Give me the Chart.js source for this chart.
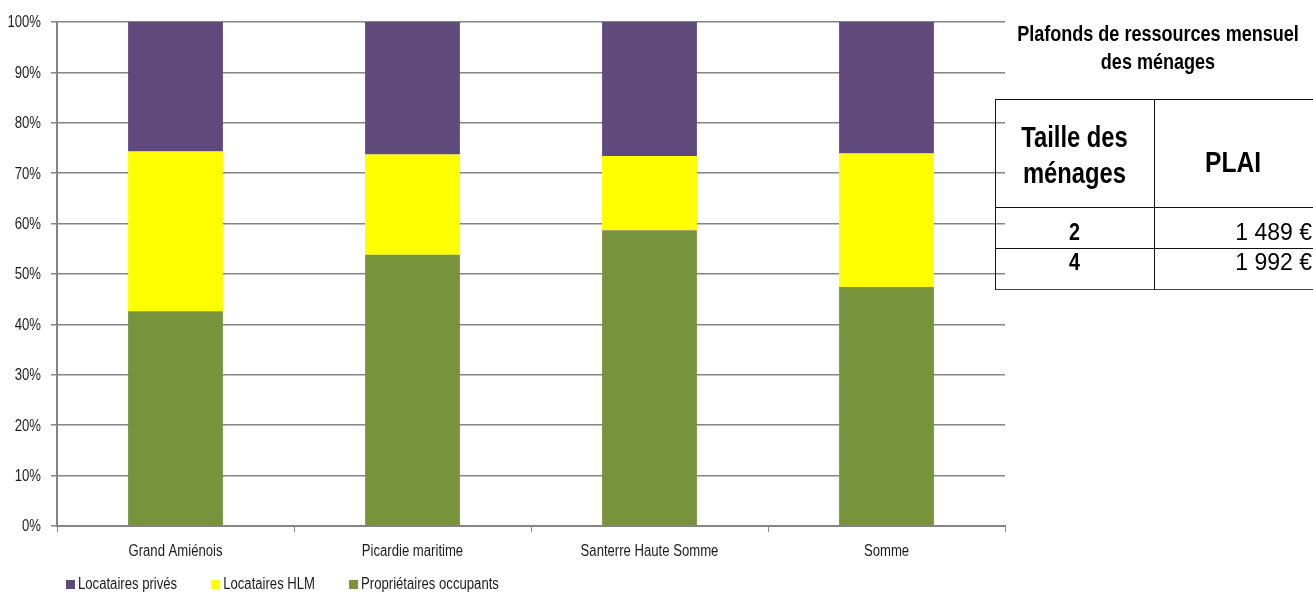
<!DOCTYPE html>
<html lang="fr">
<head>
<meta charset="utf-8">
<title>Statut d'occupation des ménages</title>
<script src="https://cdn.jsdelivr.net/npm/chart.js@4.4.1/dist/chart.umd.min.js"></script>
<style>
  html, body { margin: 0; padding: 0; background: #fff; }
  #wrap { position: relative; width: 1313px; height: 592px; overflow: hidden; }
  #chart { position: absolute; left: 0; top: 0; }
  .abs { position: absolute; white-space: nowrap; color: #000; font-family: "Liberation Sans", Arial, sans-serif; }
  .cond { transform: scaleX(0.82); transform-origin: 50% 50%; }
  .hl { position: absolute; height: 1px; background: #111; }
  .vl { position: absolute; width: 1px; background: #111; }
</style>
</head>
<body>
<div id="wrap">
  <canvas id="chart" width="1313" height="592"></canvas>
  <div id="panel"></div>
</div>
<script>
// Répartition des ménages par statut d'occupation (en %)
const categories = ['Grand Amiénois', 'Picardie maritime', 'Santerre Haute Somme', 'Somme'];
const proprietairesOccupants = [42.6, 53.8, 58.7, 47.4];
const locatairesHLM = [31.7, 19.9, 14.7, 26.5];
const locatairesPrives = [25.7, 26.3, 26.6, 26.1];
const seriesNames = ['Propriétaires occupants', 'Locataires HLM', 'Locataires privés'];
const seriesColors = ['#77933C', '#FFFF00', '#604A7B'];

// Plafonds de ressources PLAI
const tableTitle = ['Plafonds de ressources mensuel', 'des ménages'];
const tableHeader = ['Taille des', 'ménages', 'PLAI'];
const householdSizes = ['2', '4'];
const plaiCeilings = ['1 489 €', '1 992 €'];

const FONT = '"Liberation Sans", Arial, sans-serif';
const NARROW = 0.82;          // largeur d'une police « narrow »
const GRID = '#848484';
const TEXT = '#1c1c1c';

// Texte condensé horizontalement
function narrowText(ctx, text, x, y, align) {
  ctx.save();
  ctx.translate(x, y);
  ctx.scale(NARROW, 1);
  ctx.textAlign = align;
  ctx.fillText(text, 0, 0);
  ctx.restore();
}

// Étiquettes des axes en police étroite
const narrowAxisLabels = {
  id: 'narrowAxisLabels',
  afterDraw(chart) {
    const ctx = chart.ctx;
    const xs = chart.scales.x, ys = chart.scales.y;
    ctx.save();
    ctx.font = '16px ' + FONT;
    ctx.fillStyle = TEXT;
    ctx.textBaseline = 'middle';
    ys.ticks.forEach((t, i) => {
      narrowText(ctx, t.label, ys.right - 16, ys.getPixelForTick(i) + 1, 'right');
    });
    ctx.textBaseline = 'alphabetic';
    xs.ticks.forEach((t, i) => {
      narrowText(ctx, chart.data.labels[t.value], xs.getPixelForTick(i), 556, 'center');
    });
    ctx.restore();
  }
};

// Légende sous le graphique, dans l'ordre d'empilement inversé
const bottomLegend = {
  id: 'bottomLegend',
  afterDraw(chart) {
    const ctx = chart.ctx;
    const sets = chart.data.datasets.slice().reverse();
    let x = 66;
    const yMid = 585;
    ctx.save();
    ctx.font = '16px ' + FONT;
    ctx.textBaseline = 'middle';
    sets.forEach(ds => {
      ctx.fillStyle = ds.backgroundColor;
      ctx.fillRect(x, yMid - 5, 9, 9);
      ctx.fillStyle = TEXT;
      narrowText(ctx, ds.label, x + 12, yMid, 'left');
      x += 12 + ctx.measureText(ds.label).width * NARROW + 34;
    });
    ctx.restore();
  }
};

new Chart(document.getElementById('chart'), {
  type: 'bar',
  data: {
    labels: categories,
    datasets: [
      { label: seriesNames[0], data: proprietairesOccupants, backgroundColor: seriesColors[0] },
      { label: seriesNames[1], data: locatairesHLM, backgroundColor: seriesColors[1] },
      { label: seriesNames[2], data: locatairesPrives, backgroundColor: seriesColors[2] }
    ]
  },
  options: {
    responsive: false,
    animation: false,
    devicePixelRatio: 1,
    layout: { padding: { left: 8, top: 22, right: 308, bottom: 0 } },
    datasets: { bar: { barPercentage: 0.4, categoryPercentage: 1.0 } },
    plugins: { legend: { display: false }, tooltip: { enabled: false } },
    scales: {
      x: {
        stacked: true,
        grid: { offset: true, drawOnChartArea: false, drawTicks: true, tickLength: 6, color: GRID, lineWidth: 1 },
        border: { color: GRID, width: 2 },
        ticks: { font: { family: FONT, size: 16 }, color: 'rgba(0,0,0,0)', padding: 7, maxRotation: 0 },
        afterFit(s) { s.height = 66; }
      },
      y: {
        stacked: true,
        min: 0,
        max: 100,
        grid: { color: GRID, lineWidth: 1.5, tickLength: 6 },
        border: { color: GRID, width: 2 },
        ticks: { stepSize: 10, font: { family: FONT, size: 16 }, color: 'rgba(0,0,0,0)', padding: 10, callback: v => v + '%' },
        afterFit(s) { s.width = 49; }
      }
    }
  },
  plugins: [narrowAxisLabels, bottomLegend]
});

// Encadré des plafonds de ressources
(function buildPanel() {
  const p = document.getElementById('panel');
  const add = (cls, style, text) => {
    const d = document.createElement('div');
    d.className = cls;
    Object.assign(d.style, style);
    if (text !== undefined) d.textContent = text;
    p.appendChild(d);
    return d;
  };
  // titre
  tableTitle.forEach((t, i) => add('abs cond', {
    left: '958px', width: '400px', top: (20 + i * 28) + 'px', textAlign: 'center',
    fontWeight: 'bold', fontSize: '22px', lineHeight: '28px'
  }, t));
  // filets du tableau
  const L = 995, R = 1320, C = 1154;
  [99, 207, 248].forEach(y => add('hl', { left: L + 'px', width: (R - L) + 'px', top: y + 'px' }));
  add('hl', { left: L + 'px', width: (R - L) + 'px', top: '289px', background: '#444' });
  add('vl', { left: L + 'px', top: '99px', height: '191px' });
  add('vl', { left: C + 'px', top: '99px', height: '191px' });
  // en-têtes
  [0, 1].forEach(i => add('abs cond', {
    left: L + 'px', width: (C - L) + 'px', top: (119 + i * 36) + 'px', textAlign: 'center',
    fontWeight: 'bold', fontSize: '29px', lineHeight: '36px'
  }, tableHeader[i]));
  add('abs cond', {
    left: C + 'px', width: '158px', top: '144px', textAlign: 'center',
    fontWeight: 'bold', fontSize: '30px', lineHeight: '36px'
  }, tableHeader[2]);
  // lignes de valeurs
  const baseTops = [217, 247];
  householdSizes.forEach((s, i) => {
    add('abs cond', {
      left: L + 'px', width: (C - L) + 'px', top: baseTops[i] + 'px', textAlign: 'center',
      fontWeight: 'bold', fontSize: '24px', lineHeight: '30px'
    }, s);
    add('abs', {
      left: C + 'px', width: '158px', top: baseTops[i] + 'px', textAlign: 'right',
      fontSize: '23px', lineHeight: '30px'
    }, plaiCeilings[i]);
  });
})();
</script>
</body>
</html>
